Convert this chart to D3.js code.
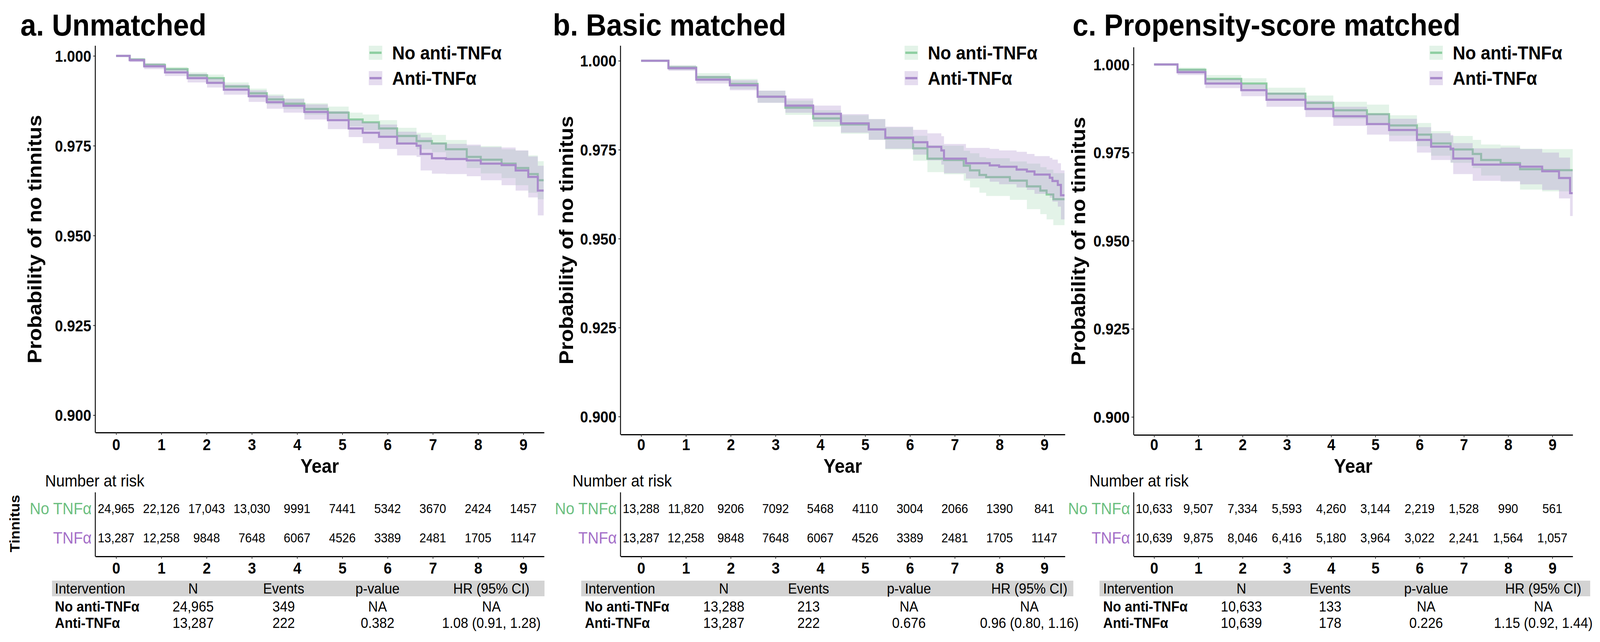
<!DOCTYPE html>
<html>
<head>
<meta charset="utf-8">
<script src="https://cdn.jsdelivr.net/npm/d3@7"></script>
<style>
  html, body { margin: 0; padding: 0; background: #fff; overflow: hidden; }
  svg { display: block; width: 100vw; height: 100vh; }
  text { font-family: 'Liberation Sans', Arial, Helvetica, sans-serif; }
</style>
</head>
<body>
<div id="main"></div>
<script>
// ---- data ----
var panelTitles = ["a. Unmatched", "b. Basic matched", "c. Propensity-score matched"];
var groups = ["No anti-TNFα", "Anti-TNFα"];
var riskLabels = ["No TNFα", "TNFα"];
var yearTicks = [0, 1, 2, 3, 4, 5, 6, 7, 8, 9];
var survTicks = [0.900, 0.925, 0.950, 0.975, 1.000];
var tableHeader = ["Intervention", "N", "Events", "p-value", "HR (95% CI)"];

// a. Unmatched
var aNoTime  = [0, 0.30, 0.62, 1.08, 1.58, 2.01, 2.38, 2.93, 3.33, 3.70, 4.16, 4.68, 5.14, 5.45, 5.81, 6.21, 6.64, 6.98, 7.29, 7.75, 8.06, 8.52, 8.83, 9.11, 9.32, 9.45];
var aNoSurv  = [1.0000, 0.9990, 0.9975, 0.9963, 0.9946, 0.9938, 0.9915, 0.9896, 0.9879, 0.9867, 0.9852, 0.9842, 0.9823, 0.9815, 0.9798, 0.9777, 0.9763, 0.9756, 0.9740, 0.9719, 0.9711, 0.9700, 0.9688, 0.9671, 0.9654, 0.9654];
var aNoLower = [1.0000, 0.9987, 0.9970, 0.9957, 0.9938, 0.9928, 0.9904, 0.9883, 0.9865, 0.9852, 0.9836, 0.9825, 0.9804, 0.9793, 0.9775, 0.9754, 0.9740, 0.9732, 0.9714, 0.9688, 0.9673, 0.9660, 0.9640, 0.9619, 0.9601, 0.9601];
var aNoUpper = [1.0000, 0.9993, 0.9980, 0.9969, 0.9954, 0.9948, 0.9926, 0.9909, 0.9893, 0.9882, 0.9868, 0.9859, 0.9842, 0.9837, 0.9821, 0.9800, 0.9786, 0.9780, 0.9766, 0.9750, 0.9749, 0.9740, 0.9736, 0.9723, 0.9707, 0.9707];

var aAntiTime  = [0, 0.30, 0.62, 1.08, 1.58, 2.01, 2.38, 2.93, 3.33, 3.70, 4.16, 4.68, 5.14, 5.45, 5.81, 6.21, 6.64, 6.73, 6.98, 7.29, 7.75, 8.06, 8.52, 8.83, 9.11, 9.32, 9.45];
var aAntiSurv  = [1.0000, 0.9988, 0.9971, 0.9954, 0.9938, 0.9925, 0.9906, 0.9888, 0.9871, 0.9861, 0.9844, 0.9821, 0.9798, 0.9786, 0.9775, 0.9756, 0.9750, 0.9727, 0.9715, 0.9713, 0.9709, 0.9700, 0.9696, 0.9681, 0.9663, 0.9625, 0.9625];
var aAntiLower = [1.0000, 0.9983, 0.9963, 0.9944, 0.9926, 0.9912, 0.9892, 0.9872, 0.9853, 0.9842, 0.9823, 0.9796, 0.9774, 0.9757, 0.9741, 0.9723, 0.9719, 0.9681, 0.9672, 0.9671, 0.9665, 0.9654, 0.9640, 0.9625, 0.9606, 0.9556, 0.9556];
var aAntiUpper = [1.0000, 0.9993, 0.9979, 0.9964, 0.9950, 0.9938, 0.9920, 0.9904, 0.9889, 0.9880, 0.9865, 0.9846, 0.9822, 0.9815, 0.9809, 0.9789, 0.9781, 0.9773, 0.9758, 0.9755, 0.9753, 0.9746, 0.9745, 0.9737, 0.9720, 0.9694, 0.9694];

// b. Basic matched
var bNoTime  = [0, 0.61, 1.23, 1.98, 2.60, 3.22, 3.84, 4.46, 5.08, 5.45, 6.07, 6.39, 6.76, 7.20, 7.34, 7.55, 7.70, 8.23, 8.61, 8.91, 9.05, 9.20, 9.45];
var bNoSurv  = [1.0000, 0.9981, 0.9954, 0.9935, 0.9899, 0.9868, 0.9838, 0.9821, 0.9807, 0.9782, 0.9754, 0.9725, 0.9721, 0.9705, 0.9692, 0.9679, 0.9673, 0.9663, 0.9647, 0.9635, 0.9624, 0.9611, 0.9611];
var bNoLower = [1.0000, 0.9974, 0.9943, 0.9921, 0.9882, 0.9848, 0.9815, 0.9795, 0.9778, 0.9751, 0.9719, 0.9687, 0.9681, 0.9663, 0.9644, 0.9629, 0.9620, 0.9609, 0.9583, 0.9569, 0.9554, 0.9538, 0.9538];
var bNoUpper = [1.0000, 0.9988, 0.9965, 0.9949, 0.9916, 0.9888, 0.9861, 0.9847, 0.9836, 0.9813, 0.9789, 0.9763, 0.9761, 0.9747, 0.9740, 0.9729, 0.9726, 0.9717, 0.9711, 0.9701, 0.9694, 0.9684, 0.9684];

var bAntiTime  = [0, 0.61, 1.23, 1.98, 2.60, 3.22, 3.84, 4.46, 5.08, 5.45, 6.07, 6.39, 6.70, 6.76, 7.25, 7.78, 7.99, 8.38, 8.61, 8.78, 9.12, 9.18, 9.30, 9.37, 9.45];
var bAntiSurv  = [1.0000, 0.9979, 0.9947, 0.9931, 0.9899, 0.9874, 0.9851, 0.9824, 0.9807, 0.9784, 0.9771, 0.9758, 0.9748, 0.9725, 0.9712, 0.9706, 0.9702, 0.9694, 0.9689, 0.9680, 0.9671, 0.9662, 0.9651, 0.9622, 0.9622];
var bAntiLower = [1.0000, 0.9972, 0.9936, 0.9917, 0.9882, 0.9854, 0.9828, 0.9798, 0.9778, 0.9753, 0.9736, 0.9720, 0.9708, 0.9684, 0.9669, 0.9660, 0.9653, 0.9644, 0.9637, 0.9626, 0.9615, 0.9604, 0.9590, 0.9554, 0.9554];
var bAntiUpper = [1.0000, 0.9986, 0.9958, 0.9945, 0.9916, 0.9894, 0.9874, 0.9850, 0.9836, 0.9815, 0.9806, 0.9796, 0.9788, 0.9766, 0.9755, 0.9752, 0.9748, 0.9744, 0.9738, 0.9732, 0.9727, 0.9722, 0.9712, 0.9692, 0.9692];

// c. Propensity-score matched
var cNoTime  = [0, 0.53, 1.16, 1.97, 2.54, 3.42, 4.05, 4.81, 5.31, 5.94, 6.26, 6.70, 7.20, 7.39, 7.83, 8.27, 8.77, 9.46];
var cNoSurv  = [1.0000, 0.9985, 0.9959, 0.9946, 0.9917, 0.9891, 0.9870, 0.9859, 0.9827, 0.9801, 0.9776, 0.9759, 0.9746, 0.9729, 0.9720, 0.9703, 0.9700, 0.9700];
var cNoLower = [1.0000, 0.9979, 0.9948, 0.9931, 0.9900, 0.9870, 0.9846, 0.9832, 0.9798, 0.9768, 0.9741, 0.9721, 0.9706, 0.9685, 0.9670, 0.9645, 0.9640, 0.9637];
var cNoUpper = [1.0000, 0.9991, 0.9970, 0.9961, 0.9934, 0.9912, 0.9894, 0.9886, 0.9856, 0.9834, 0.9811, 0.9797, 0.9786, 0.9773, 0.9770, 0.9761, 0.9760, 0.9763];

var cAntiTime  = [0, 0.53, 1.16, 1.97, 2.54, 3.42, 4.05, 4.81, 5.31, 5.94, 6.26, 6.70, 6.76, 7.20, 7.83, 8.27, 8.77, 9.15, 9.40, 9.46];
var cAntiSurv  = [1.0000, 0.9978, 0.9946, 0.9927, 0.9900, 0.9874, 0.9853, 0.9831, 0.9814, 0.9786, 0.9767, 0.9761, 0.9733, 0.9716, 0.9716, 0.9710, 0.9697, 0.9678, 0.9635, 0.9635];
var cAntiLower = [1.0000, 0.9970, 0.9933, 0.9910, 0.9880, 0.9851, 0.9826, 0.9801, 0.9782, 0.9750, 0.9729, 0.9722, 0.9689, 0.9670, 0.9668, 0.9660, 0.9644, 0.9620, 0.9570, 0.9570];
var cAntiUpper = [1.0000, 0.9986, 0.9959, 0.9944, 0.9920, 0.9897, 0.9880, 0.9861, 0.9846, 0.9822, 0.9805, 0.9800, 0.9777, 0.9762, 0.9764, 0.9760, 0.9750, 0.9736, 0.9700, 0.9700];

// numbers at risk, years 0..9
var aRiskNo   = ["24,965", "22,126", "17,043", "13,030", "9991", "7441", "5342", "3670", "2424", "1457"];
var aRiskAnti = ["13,287", "12,258", "9848", "7648", "6067", "4526", "3389", "2481", "1705", "1147"];
var bRiskNo   = ["13,288", "11,820", "9206", "7092", "5468", "4110", "3004", "2066", "1390", "841"];
var bRiskAnti = ["13,287", "12,258", "9848", "7648", "6067", "4526", "3389", "2481", "1705", "1147"];
var cRiskNo   = ["10,633", "9,507", "7,334", "5,593", "4,260", "3,144", "2,219", "1,528", "990", "561"];
var cRiskAnti = ["10,639", "9,875", "8,046", "6,416", "5,180", "3,964", "3,022", "2,241", "1,564", "1,057"];

// summary tables
var aSummary = [["No anti-TNFα", "24,965", "349", "NA", "NA"],
                ["Anti-TNFα", "13,287", "222", "0.382", "1.08 (0.91, 1.28)"]];
var bSummary = [["No anti-TNFα", "13,288", "213", "NA", "NA"],
                ["Anti-TNFα", "13,287", "222", "0.676", "0.96 (0.80, 1.16)"]];
var cSummary = [["No anti-TNFα", "10,633", "133", "NA", "NA"],
                ["Anti-TNFα", "10,639", "178", "0.226", "1.15 (0.92, 1.44)"]];

// ---- layout (pixels) ----
var layouts = [
  { axisX: 262,  right: 1496, y1000: 143,   y900: 1062.5, top: 117, bottom: 1107, titleX: 56,   yTitleX: 114,
    keyX: 1014, narX: 124,  band: [143, 1497],  cols: [151, 531, 780, 1038, 1351] },
  { axisX: 1706, right: 2928, y1000: 155.5, y900: 1066,   top: 117, bottom: 1112, titleX: 1520, yTitleX: 1576,
    keyX: 2487, narX: 1574, band: [1598, 2951], cols: [1608, 1990, 2223, 2499, 2830] },
  { axisX: 3117, right: 4324, y1000: 165,   y900: 1067,   top: 121, bottom: 1113, titleX: 2949, yTitleX: 2983,
    keyX: 3930, narX: 2995, band: [3023, 4372], cols: [3033, 3413, 3657, 3921, 4243] }
];

var lineColors = ["#8fcfa2", "#a98bcb"];
var fillColors = ["rgba(143,207,162,0.25)", "rgba(169,139,203,0.30)"];
var riskColors = ["#6cbf80", "#a46fc8"];

function zipSeries(t, s, lo, hi) {
  return t.map(function(d, i) { return { t: d, s: s[i], lo: lo[i], hi: hi[i] }; });
}

var panels = [
  { series: [zipSeries(aNoTime, aNoSurv, aNoLower, aNoUpper), zipSeries(aAntiTime, aAntiSurv, aAntiLower, aAntiUpper)],
    risk: [aRiskNo, aRiskAnti], summary: aSummary },
  { series: [zipSeries(bNoTime, bNoSurv, bNoLower, bNoUpper), zipSeries(bAntiTime, bAntiSurv, bAntiLower, bAntiUpper)],
    risk: [bRiskNo, bRiskAnti], summary: bSummary },
  { series: [zipSeries(cNoTime, cNoSurv, cNoLower, cNoUpper), zipSeries(cAntiTime, cAntiSurv, cAntiLower, cAntiUpper)],
    risk: [cRiskNo, cRiskAnti], summary: cSummary }
];

// the drawing is laid out on a 4399 x 1643 grid and stretched to fill the window
var svg = d3.select("#main")
  .append("svg")
  .attr("viewBox", "0 0 4399 1643")
  .attr("preserveAspectRatio", "none")
  .style("background-color", "white");

panels.forEach(function(p, ix) {
  var L = layouts[ix];
  var g = svg.append("g").attr("class", "panel");

  var x = d3.scaleLinear().domain([-0.46, 9.46]).range([L.axisX, L.right]);
  var y = d3.scaleLinear().domain([0.9, 1.0]).range([L.y900, L.y1000]);

  // title
  g.append("text")
    .attr("x", L.titleX).attr("y", 91)
    .style("font-size", "78px").style("font-weight", "bold")
    .text(panelTitles[ix]);

  // bands and curves: green band, green line, purple band, purple line
  var area = d3.area().curve(d3.curveStepAfter)
    .x(function(d) { return x(d.t); })
    .y0(function(d) { return y(d.lo); })
    .y1(function(d) { return y(d.hi); });
  var line = d3.line().curve(d3.curveStepAfter)
    .x(function(d) { return x(d.t); })
    .y(function(d) { return y(d.s); });

  p.series.forEach(function(s, k) {
    g.append("path").attr("d", area(s)).attr("fill", fillColors[k]).attr("stroke", "none");
    g.append("path").attr("d", line(s)).attr("fill", "none")
      .attr("stroke", lineColors[k]).attr("stroke-width", 5.5);
  });

  // y axis
  var yAxis = g.append("g")
    .attr("transform", "translate(" + L.axisX + ",0)")
    .call(d3.axisLeft(y).tickValues(survTicks).tickFormat(d3.format(".3f")).tickSize(6).tickSizeOuter(0));
  yAxis.select(".domain").remove();
  yAxis.selectAll(".tick line").attr("stroke", "#333").attr("stroke-width", 2);
  yAxis.selectAll(".tick text")
    .attr("x", -11).attr("dy", "0.36em")
    .style("font-size", "40px").style("font-weight", "bold").attr("fill", "#000");
  g.append("line")
    .attr("x1", L.axisX).attr("x2", L.axisX).attr("y1", L.top).attr("y2", L.bottom)
    .attr("stroke", "#000").attr("stroke-width", 2.5);

  // x axis
  var xAxis = g.append("g")
    .attr("transform", "translate(0," + L.bottom + ")")
    .call(d3.axisBottom(x).tickValues(yearTicks).tickSize(6).tickSizeOuter(0));
  xAxis.select(".domain").attr("stroke", "#000").attr("stroke-width", 3);
  xAxis.selectAll(".tick line").attr("stroke", "#333").attr("stroke-width", 2);
  xAxis.selectAll(".tick text")
    .attr("y", 1152 - L.bottom).attr("dy", 0)
    .style("font-size", "40px").style("font-weight", "bold").attr("fill", "#000");

  // axis titles
  var midY = (L.top + L.bottom) / 2;
  g.append("text")
    .attr("transform", "translate(" + L.yTitleX + "," + midY + ") rotate(-90)")
    .attr("text-anchor", "middle")
    .style("font-size", "54px").style("font-weight", "bold")
    .text("Probability of no tinnitus");
  g.append("text")
    .attr("x", (L.axisX + L.right) / 2).attr("y", 1210)
    .attr("text-anchor", "middle")
    .style("font-size", "50px").style("font-weight", "bold")
    .text("Year");

  // legend
  var legendRows = [135, 200];
  groups.forEach(function(name, k) {
    var cy = legendRows[k];
    g.append("rect")
      .attr("x", L.keyX).attr("y", cy - 18).attr("width", 37).attr("height", 36)
      .attr("fill", fillColors[k]);
    g.append("line")
      .attr("x1", L.keyX + 2).attr("x2", L.keyX + 35).attr("y1", cy).attr("y2", cy)
      .attr("stroke", lineColors[k]).attr("stroke-width", 6);
    g.append("text")
      .attr("x", L.keyX + 64).attr("y", cy + 17)
      .style("font-size", "48px").style("font-weight", "bold")
      .text(name);
  });

  // number at risk table
  g.append("text")
    .attr("x", L.narX).attr("y", 1245)
    .style("font-size", "42px")
    .text("Number at risk");

  var rowY = [1301, 1376];
  p.risk.forEach(function(vals, k) {
    g.append("text")
      .attr("x", L.axisX - 10).attr("y", rowY[k] + 15)
      .attr("text-anchor", "end")
      .style("font-size", "42px").attr("fill", riskColors[k])
      .text(riskLabels[k]);
    g.selectAll(null)
      .data(vals)
    .enter().append("text")
      .attr("x", function(d, i) { return x(yearTicks[i]); })
      .attr("y", rowY[k] + 12)
      .attr("text-anchor", "middle")
      .style("font-size", "33px")
      .text(function(d) { return d; });
  });

  g.append("line")
    .attr("x1", L.axisX).attr("x2", L.axisX).attr("y1", 1260).attr("y2", 1424)
    .attr("stroke", "#000").attr("stroke-width", 2.5);
  var rAxis = g.append("g")
    .attr("transform", "translate(0,1424)")
    .call(d3.axisBottom(x).tickValues(yearTicks).tickSize(6).tickSizeOuter(0));
  rAxis.select(".domain").attr("stroke", "#000").attr("stroke-width", 3);
  rAxis.selectAll(".tick line").attr("stroke", "#333").attr("stroke-width", 2);
  rAxis.selectAll(".tick text")
    .attr("y", 1468 - 1424).attr("dy", 0)
    .style("font-size", "40px").style("font-weight", "bold").attr("fill", "#000");

  if (ix === 0) {
    g.append("text")
      .attr("transform", "translate(54,1340) rotate(-90)")
      .attr("text-anchor", "middle")
      .style("font-size", "38px").style("font-weight", "bold")
      .text("Tinnitus");
  }

  // summary table
  g.append("rect")
    .attr("x", L.band[0]).attr("y", 1486)
    .attr("width", L.band[1] - L.band[0]).attr("height", 40)
    .attr("fill", "#d3d3d3");

  tableHeader.forEach(function(h, c) {
    g.append("text")
      .attr("x", L.cols[c]).attr("y", 1519)
      .attr("text-anchor", c === 0 ? "start" : "middle")
      .style("font-size", "37px")
      .text(h);
  });

  var tableRowY = [1565, 1607];
  p.summary.forEach(function(row, r) {
    row.forEach(function(v, c) {
      g.append("text")
        .attr("x", L.cols[c]).attr("y", tableRowY[r])
        .attr("text-anchor", c === 0 ? "start" : "middle")
        .style("font-size", "37px")
        .style("font-weight", c === 0 ? "bold" : "normal")
        .text(v);
    });
  });
});
</script>
</body>
</html>
